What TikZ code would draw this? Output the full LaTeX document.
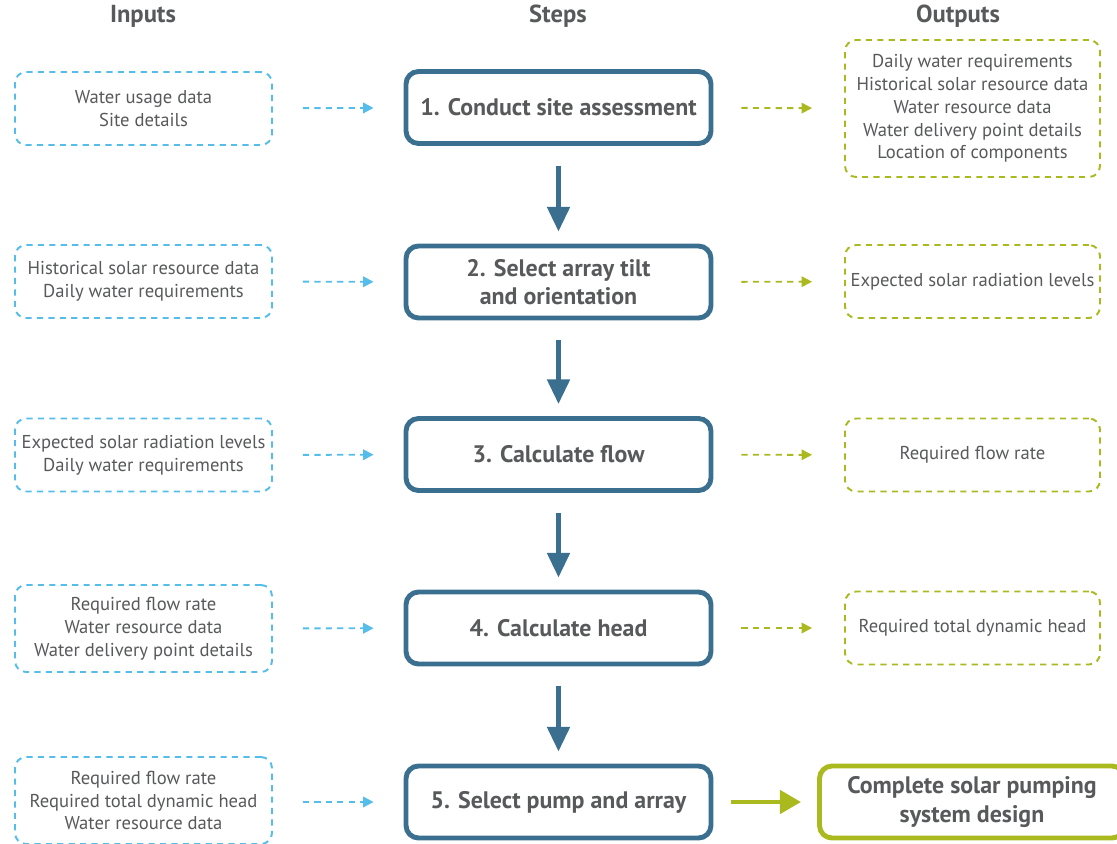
\documentclass[tikz,border=0pt]{standalone}
\usepackage{fontspec}
\setmainfont{PT Sans}
\usepackage{xcolor}
\usetikzlibrary{arrows.meta}
\definecolor{inblue}{HTML}{55BDEA}
\definecolor{stepblue}{HTML}{3B6F8F}
\definecolor{outgreen}{HTML}{AABA1E}
\definecolor{txtgray}{HTML}{58595B}

\begin{document}
\begin{tikzpicture}[x=0.02cm,y=-0.02cm,
    inbox/.style={draw=inblue,line width=1.1pt,dash pattern=on 3.5pt off 3pt,rounded corners=0.22cm,inner sep=1pt,
      minimum width=5.14cm,minimum height=1.46cm,align=center,text=txtgray,font=\fontsize{10.6}{13}\selectfont},
    stepbox/.style={draw=stepblue,line width=2.8pt,rounded corners=0.25cm,fill=white,
      minimum width=6.1cm,minimum height=1.44cm,align=center,text=txtgray,font=\fontsize{13.6}{16}\selectfont\bfseries},
    outbox/.style={draw=outgreen,line width=1.1pt,dash pattern=on 3.5pt off 3pt,rounded corners=0.22cm,inner sep=1pt,
      minimum width=5.1cm,minimum height=1.46cm,align=center,text=txtgray,font=\fontsize{10.6}{13}\selectfont},
    head/.style={text=txtgray,font=\fontsize{14}{16}\selectfont\bfseries},
    inarrow/.style={draw=inblue,line width=1.1pt,dash pattern=on 3.5pt off 3pt,-{Triangle[length=6pt,width=6pt]},shorten <=0.6cm,shorten >=0.6cm},
    outarrow/.style={draw=outgreen,line width=1.1pt,dash pattern=on 3.5pt off 3pt,-{Triangle[length=6pt,width=6pt]},shorten <=0.56cm,shorten >=0.64cm},
    down/.style={draw=stepblue,line width=2.8pt,-{Triangle[length=14pt,width=12.5pt]},shorten <=0.4cm,shorten >=0.24cm}]
    \useasboundingbox (0,0) rectangle (1117,843);
    \clip (0,0) rectangle (1117,843);
    % column heads
    \node[head] (hin) at (143,16) {Inputs};
    \node[head] (hstep) at (558,16) {Steps};
    \node[head] (hout) at (958,16) {Outputs};
    % inputs
    \node[inbox] (in1) at (143.5,108.5) {Water usage data\\Site details};
    \node[inbox] (in2) at (143.5,281.5) {Historical solar resource data\\Daily water requirements};
    \node[inbox] (in3) at (143.5,455) {Expected solar radiation levels\\Daily water requirements};
    \node[inbox,minimum height=1.74cm] (in4) at (143.5,628.5) {Required flow rate\\Water resource data\\Water delivery point details};
    \node[inbox,minimum height=1.74cm] (in5) at (143.5,800.5) {Required flow rate\\Required total dynamic head\\Water resource data};
    % steps
    \node[stepbox] (st1) at (558.5,107.5) {1. Conduct site assessment};
    \node[stepbox] (st2) at (558.5,282) {2. Select array tilt\\and orientation};
    \node[stepbox] (st3) at (558.5,454.5) {3. Calculate flow};
    \node[stepbox] (st4) at (558.5,628) {4. Calculate head};
    \node[stepbox] (st5) at (558.5,802) {5. Select pump and array};
    % outputs
    \node[outbox,minimum height=2.74cm] (out1) at (972.5,108.5) {Daily water requirements\\Historical solar resource data\\Water resource data\\Water delivery point details\\Location of components};
    \node[outbox] (out2) at (972.5,281.5) {Expected solar radiation levels};
    \node[outbox] (out3) at (972.5,455) {Required flow rate};
    \node[outbox] (out4) at (972.5,628) {Required total dynamic head};
    \node[stepbox,draw=outgreen] (fin) at (972,802) {Complete solar pumping\\system design};
    % connectors
    \draw[inarrow] (in1) -- (st1);
    \draw[inarrow] (in2) -- (st2);
    \draw[inarrow] (in3) -- (st3);
    \draw[inarrow] (in4) -- (st4);
    \draw[inarrow] (in5.east |- st5) -- (st5);
    \draw[outarrow] (st1) -- (out1);
    \draw[outarrow] (st2) -- (out2);
    \draw[outarrow] (st3) -- (out3);
    \draw[outarrow] (st4) -- (out4);
    \draw[down] (st1) -- (st2);
    \draw[down] (st2) -- (st3);
    \draw[down] (st3) -- (st4);
    \draw[down] (st4) -- (st5);
    \draw[draw=outgreen,line width=2.8pt,-{Triangle[length=12pt,width=13pt]},shorten <=0.36cm,shorten >=0.32cm] (st5) -- (fin);
\end{tikzpicture}
\end{document}
